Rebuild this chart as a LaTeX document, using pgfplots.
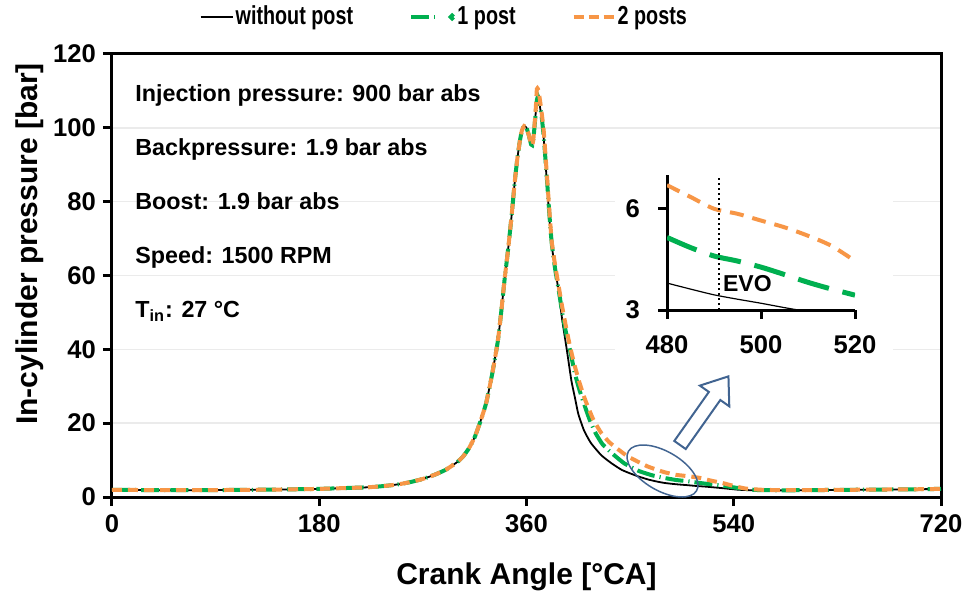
\documentclass[border=0pt]{standalone}
\usepackage{fontspec}
\setmainfont{Liberation Sans}
\usepackage{graphicx}
\usepackage{pgfplots}
\pgfplotsset{compat=1.18}
\definecolor{pgreen}{RGB}{0,176,80}
\definecolor{porange}{RGB}{247,150,70}
\definecolor{pblue}{RGB}{65,100,145}
\newcommand\tickfont{\bfseries\fontsize{12.8}{14}\selectfont}
\begin{document}
\begin{tikzpicture}
\path[use as bounding box] (-56pt,-48.5pt) rectangle (430pt,248.5pt);
\begin{axis}[
  at={(0,0)}, anchor=south west,
  scale only axis, width=414.5pt, height=221.5pt,
  xmin=0, xmax=720, ymin=0, ymax=120,
  xtick={0,180,360,540,720}, ytick={0,20,...,120},
  axis line style={line width=1.5pt},
  tick style={line width=1.5pt, black},
  major tick length=4.5pt,
  tick align=outside,
  xtick pos=bottom, ytick pos=left,
  ymajorgrids, grid style={black!8, line width=0.75pt},
  ticklabel style={font=\tickfont},
  xticklabel style={yshift=-1pt},
  /pgf/number format/assume math mode=true,
  xlabel={Crank Angle [°CA]}, ylabel={In-cylinder pressure [bar]},
  label style={font=\bfseries\fontsize{15}{17}\selectfont},
  xlabel style={at={(axis description cs:0.5,-0.18)}, anchor=center},
  ylabel style={at={(axis description cs:-0.099,0.571)}, anchor=center},
  legend style={draw=none, fill=none, at={(0.098,1.0835)}, anchor=west,
    font=\bfseries\fontsize{13}{15}\selectfont, nodes={inner sep=1pt},
    /tikz/every even column/.append style={column sep=27pt}},
  legend columns=3, legend cell align=left,
]
\addplot[black, line width=0.9pt, smooth, tension=0.3,
  legend image code/.code={\draw[black, line width=1pt] (0pt,0pt) -- (16pt,0pt);}]
coordinates {
(0,1.9) (20,1.9) (40,1.85) (60,1.85) (80,1.85) (100,1.9) (120,1.95) (140,2.0) (160,2.1) (180,2.2) (200,2.4) (220,2.6) (230,2.8) (240,3.1) (250,3.5) (260,4.1) (270,4.9) (280,6.0) (290,7.4) (300,9.5) (305,11) (310,13.2) (315,16.2) (320,20.5) (325,25.5) (330,33) (335,42) (338,50) (341,59) (344,67) (347,76) (350,86) (352,91.5) (354,96) (356,99.3) (358,100.5) (360,100) (362,98) (364,95.5) (365,95.3) (366,97) (368,104)
(369,107.5) (370,108) (371,107) (373,103) (375,97) (378,84) (380,75) (382,68) (385,61.5) (388,55.5) (391,48) (395,39.9) (399,31.5) (402,27) (405,22.5) (410,18) (416,14.6) (425,11.3) (434,9.1) (443,7.3) (455,5.8) (465,4.8) (473,4.2) (480,3.8) (490,3.45) (500,3.2) (507,3.0) (516,2.8) (530,2.4) (545,1.95) (560,1.8) (580,1.8) (600,1.85) (620,1.9) (640,1.95) (660,2.0) (680,2.05) (700,2.1) (720,2.2)
};
\addlegendentry{\scalebox{0.76}[1]{without post}}
\addplot[pgreen, line width=2pt, dash pattern=on 9pt off 2.5pt on 0.6pt off 2.5pt, smooth, tension=0.3,
  legend image code/.code={\draw[pgreen, line width=2pt] (0pt,0pt) -- (14.5pt,0pt); \fill[pgreen] (20.5pt,0pt) circle (0.7pt);}]
coordinates {
(0,1.9) (20,1.9) (40,1.85) (60,1.85) (80,1.85) (100,1.9) (120,1.95) (140,2.0) (160,2.1) (180,2.2) (200,2.4) (220,2.6) (230,2.8) (240,3.1) (250,3.5) (260,4.1) (270,4.9) (280,6.0) (290,7.4) (300,9.5) (305,11) (310,13.2) (315,16.2) (320,20.5) (325,25.5) (330,33) (335,42) (338,50) (341,59) (344,67) (347,76) (350,86) (352,91.5) (354,96) (356,99.3) (358,100.5) (360,100) (362,98) (364,95.5) (365,95.3) (366,97) (368,104)
(369,107.5) (370,108.5) (371,107.5) (373,103.5) (375,97.5) (378,85) (380,76) (382,68.5) (385,61.5) (388,56) (391,50) (394,45) (398,39.5) (402,33.5) (406,29) (411,24.3) (415,20.8) (420,17.3) (426,14.3) (434,11.9) (445,9.1) (458,7.0) (470,5.8) (480,5.15) (490,4.6) (500,4.27) (510,3.82) (520,3.44) (530,3.1) (540,2.6) (550,2.15) (560,1.9) (580,1.8) (600,1.85) (620,1.9) (640,1.95) (660,2.0) (680,2.05) (700,2.1) (720,2.2)
};
\addlegendentry{\scalebox{0.76}[1]{1 post}}
\addplot[porange, line width=2pt, dash pattern=on 5pt off 3pt, smooth, tension=0.3,
  legend image code/.code={\draw[porange, line width=2pt, dash pattern=on 5pt off 2.5pt] (0pt,0pt) -- (20pt,0pt);}]
coordinates {
(0,1.9) (20,1.9) (40,1.85) (60,1.85) (80,1.85) (100,1.9) (120,1.95) (140,2.0) (160,2.1) (180,2.2) (200,2.4) (220,2.6) (230,2.8) (240,3.1) (250,3.5) (260,4.1) (270,4.9) (280,6.0) (290,7.4) (300,9.5) (305,11) (310,13.2) (315,16.2) (320,20.5) (325,25.5) (330,33) (335,42) (338,50) (341,59) (344,67) (347,76) (350,86) (352,91.5) (354,96) (356,99.3) (358,100.5) (360,100) (362,98) (364,95.5) (365,95.3) (366,97) (368,105)
(369,110.5) (370,110.5) (371,109) (373,104.5) (375,99) (378,86) (380,77) (382,69) (385,62.5) (388,57) (391,51.5) (395,45) (398,40.5) (402,35.4) (406,31) (411,26.3) (418,21) (425,17.3) (432,14.8) (440,12.8) (447,11.2) (454,10) (465,8.3) (475,7.2) (480,6.7) (490,6.0) (500,5.65) (510,5.2) (520,4.45) (530,3.8) (540,3.0) (550,2.3) (565,1.95) (583,1.85) (600,1.85) (620,1.9) (640,1.95) (660,2.0) (680,2.05) (700,2.1) (720,2.2)
};
\addlegendentry{\scalebox{0.76}[1]{2 posts}}
\end{axis}
% white backing of the inset
\fill[white] (251.5pt,66pt) rectangle (390.5pt,166pt);
% ellipse and arrow
\draw[pblue, line width=0.75pt, rotate around={-30:(275.25pt,13pt)}] (275.25pt,13pt) ellipse (19.7pt and 9.8pt);
\begin{scope}[shift={(284pt,26pt)}, rotate=54.8]
\draw[pblue, line width=1pt, fill=white, line join=miter] (0pt,-3.5pt) -- (30pt,-3.5pt) -- (30pt,-9pt) -- (42pt,0pt) -- (30pt,9pt) -- (30pt,3.5pt) -- (0pt,3.5pt) -- cycle;
\end{scope}
% annotations
\begin{scope}[every node/.style={anchor=base west, inner sep=0pt, font=\bfseries\fontsize{11.65}{13}\selectfont}]
\node at (11.5pt,197.65pt) {Injection pressure: 900 bar abs};
\node at (11.5pt,170.65pt) {Backpressure: 1.9 bar abs};
\node at (11.5pt,143.65pt) {Boost: 1.9 bar abs};
\node at (11.5pt,116.65pt) {Speed: 1500 RPM};
\node at (11.5pt,89.65pt) {T\textsubscript{in}: 27 °C};
\end{scope}
% inset
\begin{axis}[
  at={(277.5pt,93.5pt)}, anchor=south west,
  scale only axis, width=94pt, height=67.5pt,
  xmin=480, xmax=520, ymin=3, ymax=7,
  xtick={480,500,520}, ytick={3,6},
  axis x line=bottom, axis y line=left,
  axis line style={line width=1.5pt, -},
  every outer x axis line/.append style={-},
  every outer y axis line/.append style={-},
  tick style={line width=1.5pt, black},
  major tick length=4.5pt,
  tick align=outside,
  ticklabel style={font=\tickfont},
  xticklabel style={yshift=-5pt},
  yticklabel style={xshift=-5.5pt},
  /pgf/number format/assume math mode=true,
  /pgf/number format/1000 sep={},
]
\addplot[black, line width=0.6pt, smooth] coordinates {
(478,3.9) (480,3.8) (485,3.62) (490,3.45) (495,3.32) (500,3.2) (505,3.07) (510,2.95)
};
\addplot[pgreen, line width=2.5pt, dash pattern=on 16pt off 7pt, smooth] coordinates {
(480,5.15) (485,4.85) (490,4.6) (495,4.45) (500,4.27) (505,4.05) (510,3.82) (515,3.62) (520,3.44)
};
\addplot[porange, line width=2pt, dash pattern=on 7pt off 4.5pt, smooth] coordinates {
(480,6.7) (485,6.35) (490,6.0) (495,5.85) (500,5.65) (505,5.45) (510,5.2) (515,4.9) (520,4.45)
};
\addplot[black, line width=1.1pt, dash pattern=on 1.1pt off 1.4pt] coordinates {(491,3) (491,7)};
\node[anchor=west, inner sep=0pt, font=\bfseries\fontsize{11.5}{13}\selectfont] at (axis cs:491.85,3.79) {EVO};
\end{axis}
\end{tikzpicture}
\end{document}
